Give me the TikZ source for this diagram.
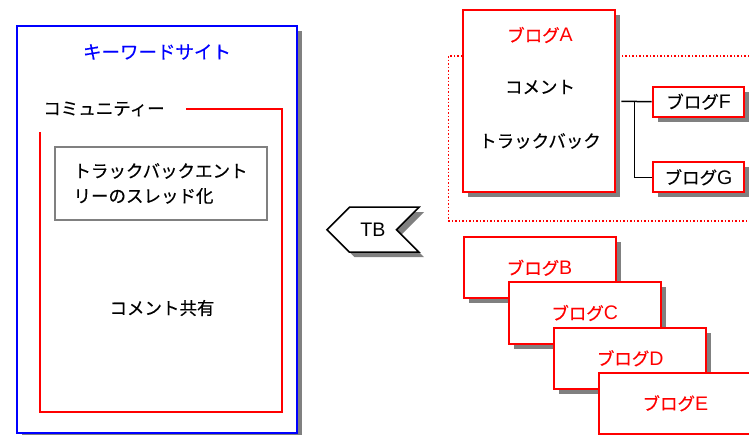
\documentclass[tikz,border=0pt]{standalone}
\usepackage{fontspec}
\setmainfont{Noto Sans CJK JP}[FakeBold=0.3]
\newfontfamily\lat{Liberation Sans}[Scale=1.12]
\usetikzlibrary{shapes.symbols,shadows}
\definecolor{shadowgray}{RGB}{128,128,128}
\definecolor{framegray}{RGB}{128,128,128}
\tikzset{
  shd/.style={drop shadow={shadow xshift=5pt, shadow yshift=-5pt, fill=shadowgray, opacity=1}},
  txt/.style={font=\fontsize{17.5}{25}\selectfont, inner sep=0pt},
  blogbox/.style={draw=red, line width=2pt, fill=white, shd, inner sep=0pt,
    minimum width=152pt, minimum height=61pt, text=red, font=\fontsize{17.5}{20}\selectfont},
  smallblog/.style={draw=red, line width=2pt, fill=white, shd, inner sep=0pt,
    minimum width=91.6pt, minimum height=30pt, text=black, font=\fontsize{17.5}{20}\selectfont},
  conn/.style={draw=black, line width=1.5pt},
}
\begin{document}
\begin{tikzpicture}[x=1pt,y=-1pt]
\useasboundingbox (0,0) rectangle (749,435);
\clip (0,0) rectangle (749,435);

% keyword site
\node[draw=blue, line width=2pt, fill=white, shd, minimum width=280pt, minimum height=407pt, inner sep=0pt] (site) at (157,229.5) {};
\node[txt, text=blue, font=\fontsize{18.5}{22}\selectfont] (sitetitle) at (157,52) {キーワードサイト};

% community frame
\node[txt] (comm) at (104,109) {コミュニティー};
\draw[red, line width=1.5pt] (186,109) -| (282,412) -| (40,132);

\node[draw=framegray, line width=2pt, fill=white, minimum width=212pt, minimum height=73pt,
      inner sep=0pt, text width=175pt, align=left, font=\fontsize{17.5}{25}\selectfont] (thread) at (161,183.5)
      {トラックバックエント\\リーのスレッド化};
\node[txt] (share) at (162,308) {コメント共有};

% TB signal
\node[signal, signal to=west, signal from=east, draw=black, line width=1.5pt, fill=white,
      minimum width=92pt, minimum height=45pt, inner sep=0pt, shd, font=\fontsize{17.5}{20}\selectfont\lat] (tb) at (373,229.7) {TB};

% dotted group
\node[draw=red, line width=1.5pt, dotted, minimum width=321.7pt, minimum height=165pt, inner sep=0pt] (grp) at (609.2,138.5) {};

% blog A
\node[draw=red, line width=2pt, fill=white, shd, minimum width=152pt, minimum height=182pt, inner sep=0pt] (blogA) at (539.3,101.3) {};
\node[txt, text=red] (blogAt) at (540,35) {ブログ{\lat A}};
\node[txt] (comment) at (540,87) {コメント};
\node[txt] (tback) at (540,141) {トラックバック};

% blogs F, G
\node[smallblog] (blogF) at (698.5,101.7) {ブログ{\lat F}};
\node[smallblog] (blogG) at (698.5,177.3) {ブログ{\lat G}};
\draw[conn] ([xshift=5pt]blogA.east) -- (blogF.west);
\draw[conn] ([xshift=18pt]blogA.east) |- (blogG.west);

% blogs B-E
\node[blogbox] (blogB) at (539.5,267.8) {ブログ{\lat B}};
\node[blogbox] (blogC) at (584.7,313) {ブログ{\lat C}};
\node[blogbox] (blogD) at (630.2,358.3) {ブログ{\lat D}};
\node[blogbox] (blogE) at (675.3,403.3) {ブログ{\lat E}};
\end{tikzpicture}
\end{document}
